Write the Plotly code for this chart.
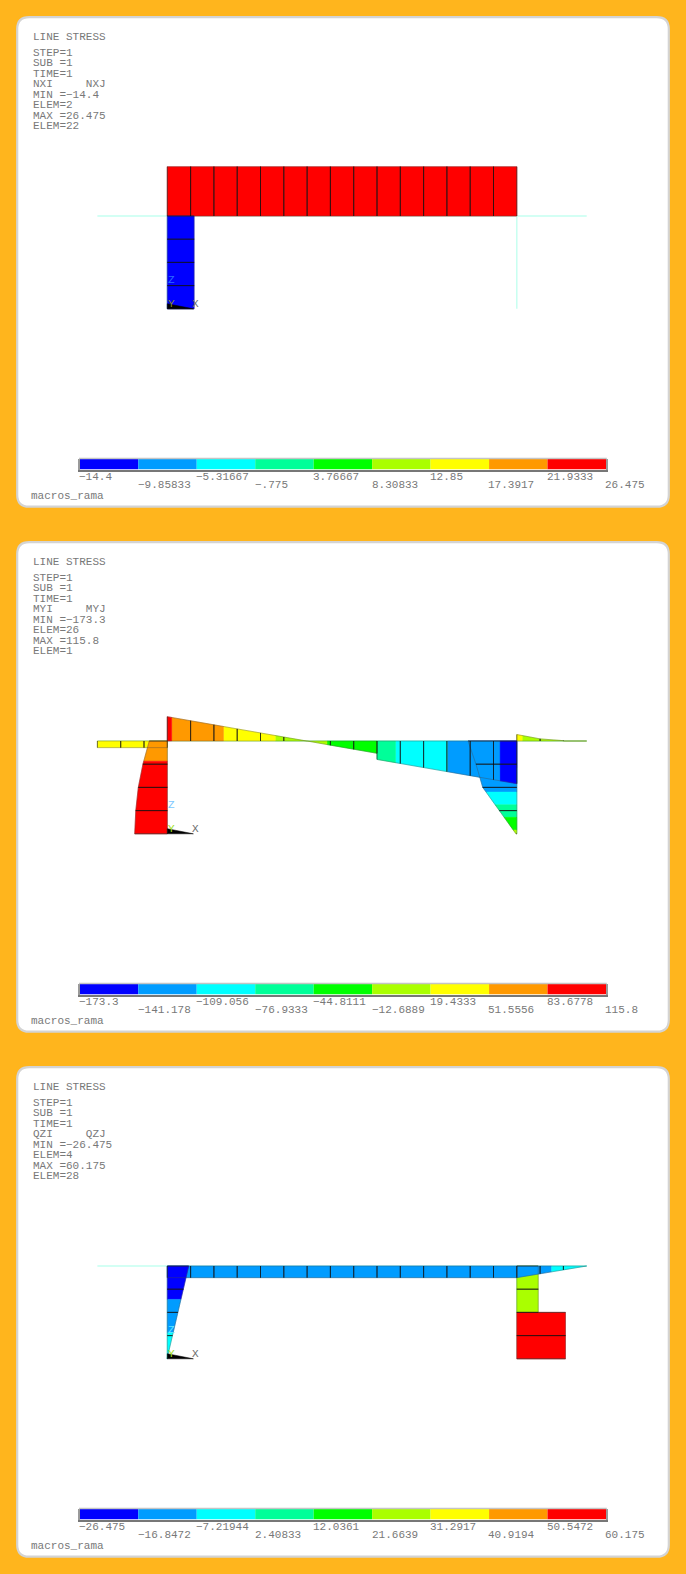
import plotly.graph_objects as go

# ---------- data ----------
beam_x = [0, 1, 2, 3, 4, 5, 6, 7, 8, 9, 10, 11, 12, 13, 14, 15]
left_over_x = [-3, -2, -1, 0]
right_over_x = [15, 16, 17, 18]
col_z = [0, -1, -2, -3, -4]

# NX
nx_levels = [-14.4, -9.85833, -5.31667, -0.775, 3.76667, 8.30833, 12.85, 17.3917, 21.9333, 26.475]
nx_labels = ["−14.4", "−9.85833", "−5.31667", "−.775", "3.76667", "8.30833", "12.85", "17.3917", "21.9333", "26.475"]
nx_beam_i = [26.475, 26.475, 26.475, 26.475, 26.475, 26.475, 26.475, 26.475, 26.475, 26.475, 26.475, 26.475, 26.475, 26.475, 26.475]
nx_beam_j = [26.475, 26.475, 26.475, 26.475, 26.475, 26.475, 26.475, 26.475, 26.475, 26.475, 26.475, 26.475, 26.475, 26.475, 26.475]
nx_lcol_i = [-14.4, -14.4, -14.4, -14.4]
nx_lcol_j = [-14.4, -14.4, -14.4, -14.4]
nx_rcol_i = [0, 0, 0, 0]
nx_rcol_j = [0, 0, 0, 0]
nx_lover_i = [0, 0, 0]
nx_lover_j = [0, 0, 0]
nx_rover_i = [0, 0, 0]
nx_rover_j = [0, 0, 0]

# MY
my_levels = [-173.3, -141.178, -109.056, -76.9333, -44.8111, -12.6889, 19.4333, 51.5556, 83.6778, 115.8]
my_labels = ["−173.3", "−141.178", "−109.056", "−76.9333", "−44.8111", "−12.6889", "19.4333", "51.5556", "83.6778", "115.8"]
my_beam_i = [86.4, 71.9, 57.5, 43.0, 28.6, 14.1, -0.3, -14.8, -29.2, -65.5, -79.9, -94.3, -108.7, -123.1, -137.4]
my_beam_j = [71.9, 57.5, 43.0, 28.6, 14.1, -0.3, -14.8, -29.2, -43.7, -79.9, -94.3, -108.7, -123.1, -137.4, -151.5]
my_lcol_i = [64.0, 86.6, 103.0, 112.0]
my_lcol_j = [86.6, 103.0, 112.0, 115.8]
my_rcol_i = [-173.3, -145.0, -121.0, -62.0]
my_rcol_j = [-145.0, -121.0, -62.0, -3.0]
my_lover_i = [23.5, 23.5, 23.5]
my_lover_j = [23.5, 23.5, 23.5]
my_rover_i = [23.0, 7.5, 1.2]
my_rover_j = [7.5, 1.2, 0.0]

# QZ
qz_levels = [-26.475, -16.8472, -7.21944, 2.40833, 12.0361, 21.6639, 31.2917, 40.9194, 50.5472, 60.175]
qz_labels = ["−26.475", "−16.8472", "−7.21944", "2.40833", "12.0361", "21.6639", "31.2917", "40.9194", "50.5472", "60.175"]
qz_beam_i = [-14.4, -14.4, -14.4, -14.4, -14.4, -14.4, -14.4, -14.4, -14.4, -14.4, -14.4, -14.4, -14.4, -14.4, -14.4]
qz_beam_j = [-14.4, -14.4, -14.4, -14.4, -14.4, -14.4, -14.4, -14.4, -14.4, -14.4, -14.4, -14.4, -14.4, -14.4, -14.4]
qz_lcol_i = [-26.475, -19.8, -13.1, -6.4]
qz_lcol_j = [-19.8, -13.1, -6.4, 0.3]
qz_rcol_i = [26.475, 26.475, 60.175, 60.175]
qz_rcol_j = [26.475, 26.475, 60.175, 60.175]
qz_lover_i = [0, 0, 0]
qz_lover_j = [0, 0, 0]
qz_rover_i = [-14.4, -9.6, -4.8]
qz_rover_j = [-9.6, -4.8, 0.0]

band_colors = ["#0000ff", "#009cff", "#00ffff", "#00ff99", "#00ff00", "#aaff00", "#ffff00", "#ff9900", "#ff0000"]

nx_header = ["LINE STRESS", "STEP=1", "SUB =1", "TIME=1", "NXI     NXJ", "MIN =−14.4", "ELEM=2", "MAX =26.475", "ELEM=22"]
my_header = ["LINE STRESS", "STEP=1", "SUB =1", "TIME=1", "MYI     MYJ", "MIN =−173.3", "ELEM=26", "MAX =115.8", "ELEM=1"]
qz_header = ["LINE STRESS", "STEP=1", "SUB =1", "TIME=1", "QZI     QZJ", "MIN =−26.475", "ELEM=4", "MAX =60.175", "ELEM=28"]
footer = "macros_rama"
triad_x = [0, 1.12, 0]
triad_z = [-4, -4, -3.78]

# ---------- layout constants (pixels) ----------
W, H = 686, 1574
DY = 525
UX, UZ = 23.3, 23.2
X0, Z0 = 167.3, 216.0
PX_PER_VALUE = [1.862, 0.2815, 0.809]
TEXT = "#787878"
FONT = "Liberation Mono"


def fx(px):
    return px / W


def fy(py):
    return 1 - py / H


panels = [
    dict(levels=nx_levels, labels=nx_labels, header=nx_header,
         beam=(nx_beam_i, nx_beam_j), lcol=(nx_lcol_i, nx_lcol_j), rcol=(nx_rcol_i, nx_rcol_j),
         lover=(nx_lover_i, nx_lover_j), rover=(nx_rover_i, nx_rover_j), zcolor="#2a6cff", ycolor="#8a8a20"),
    dict(levels=my_levels, labels=my_labels, header=my_header,
         beam=(my_beam_i, my_beam_j), lcol=(my_lcol_i, my_lcol_j), rcol=(my_rcol_i, my_rcol_j),
         lover=(my_lover_i, my_lover_j), rover=(my_rover_i, my_rover_j), zcolor="#7cc8ff", ycolor="#a0e020"),
    dict(levels=qz_levels, labels=qz_labels, header=qz_header,
         beam=(qz_beam_i, qz_beam_j), lcol=(qz_lcol_i, qz_lcol_j), rcol=(qz_rcol_i, qz_rcol_j),
         lover=(qz_lover_i, qz_lover_j), rover=(qz_rover_i, qz_rover_j), zcolor="#60e8ff", ycolor="#a0e020"),
]

fig = go.Figure()
shapes, annotations, layout_axes = [], [], {}


def text(x, y, s, xref="paper", yref="paper", color=TEXT, size=11, anchor="left"):
    annotations.append(dict(x=x, y=y, xref=xref, yref=yref, text=s, showarrow=False, xanchor=anchor,
                            yanchor="middle", borderpad=0, align="left",
                            font=dict(family=FONT, size=size, color=color)))


def band_of(v, levels):
    for k in range(9):
        if v < levels[k + 1]:
            return k
    return 8


def member_polys(nodes, vi, vj, base, direction, k, levels, horizontal):
    """Contour-banded quads for one member: returns polys per band, outlines, dividers."""
    bands = {b: ([], []) for b in range(9)}
    ox, oz, dx, dz = [], [], [], []

    def pt(s, v):
        off = direction * v * k
        return (s, base + off) if horizontal else (base + off, s)

    def bp(s):
        return (s, base) if horizontal else (base, s)

    for e in range(len(vi)):
        a, b, u, w = nodes[e], nodes[e + 1], vi[e], vj[e]
        ts = [0.0, 1.0]
        if u != w:
            for L in levels:
                t = (L - u) / (w - u)
                if 0 < t < 1:
                    ts.append(t)
        ts.sort()
        for t0, t1 in zip(ts[:-1], ts[1:]):
            mid = u + (w - u) * (t0 + t1) / 2
            if abs(u) + abs(w) == 0:
                continue
            s0, s1 = a + (b - a) * t0, a + (b - a) * t1
            v0, v1 = u + (w - u) * t0, u + (w - u) * t1
            q = [bp(s0), bp(s1), pt(s1, v1), pt(s0, v0), bp(s0)]
            xs, zs = bands[band_of(mid, levels)]
            xs += [p[0] for p in q] + [None]
            zs += [p[1] for p in q] + [None]
        if abs(u) + abs(w) > 0:
            q = [bp(a), bp(b), pt(b, w), pt(a, u), bp(a)]
            ox += [p[0] for p in q] + [None]
            oz += [p[1] for p in q] + [None]
            for s, v in ((a, u), (b, w)):
                if abs(v) > 1e-9:
                    d0, d1 = bp(s), pt(s, v)
                    dx += [d0[0], d1[0], None]
                    dz += [d0[1], d1[1], None]
    return bands, ox, oz, dx, dz


for p, P in enumerate(panels):
    n = p + 1
    off = DY * p
    xa, ya = f"xaxis{n}", f"yaxis{n}"
    xr, yr = f"x{n}", f"y{n}"
    # model axes: 1 unit = one element
    layout_axes[xa] = dict(domain=[fx(X0 - 6 * UX), fx(X0 + 21 * UX)], range=[-6, 21], visible=False, anchor=yr)
    layout_axes[ya] = dict(domain=[fy(Z0 + off + 5 * UZ), fy(Z0 + off - 3 * UZ)], range=[-5, 3], visible=False, anchor=xr)

    # panel card
    L_, R_, T_, B_, r = 17.2, 668.8, 17.2 + off, 506.7 + off, 12
    path = (f"M {fx(L_ + r)} {fy(T_)} L {fx(R_ - r)} {fy(T_)} Q {fx(R_)} {fy(T_)} {fx(R_)} {fy(T_ + r)} "
            f"L {fx(R_)} {fy(B_ - r)} Q {fx(R_)} {fy(B_)} {fx(R_ - r)} {fy(B_)} "
            f"L {fx(L_ + r)} {fy(B_)} Q {fx(L_)} {fy(B_)} {fx(L_)} {fy(B_ - r)} "
            f"L {fx(L_)} {fy(T_ + r)} Q {fx(L_)} {fy(T_)} {fx(L_ + r)} {fy(T_)} Z")
    shapes.append(dict(type="path", path=path, xref="paper", yref="paper", fillcolor="white",
                       line=dict(color="#d4d4d4", width=2.2), layer="below"))

    # undeformed frame
    fig.add_trace(go.Scatter(
        x=[left_over_x[0], right_over_x[-1], None, beam_x[0], beam_x[0], None, beam_x[-1], beam_x[-1]],
        y=[col_z[0], col_z[0], None, col_z[0], col_z[-1], None, col_z[0], col_z[-1]],
        mode="lines", line=dict(color="#c4fff0", width=1.4), xaxis=xr, yaxis=yr, hoverinfo="skip", showlegend=False))

    kx = PX_PER_VALUE[p] / UX
    kz = PX_PER_VALUE[p] / UZ
    members = [
        (left_over_x, P["lover"], 0, -1, kz, True),
        (col_z, P["rcol"], beam_x[-1], 1, kx, False),
        (beam_x, P["beam"], 0, 1, kz, True),
        (right_over_x, P["rover"], 0, 1, kz, True),
        (col_z, P["lcol"], beam_x[0], -1, kx, False),
    ]
    ox, oz, dx, dz = [], [], [], []
    for nodes, (vi, vj), base, direction, k, horizontal in members:
        bands, a, b, c, d = member_polys(nodes, vi, vj, base, direction, k, P["levels"], horizontal)
        ox += a; oz += b; dx += c; dz += d
        for bi, (xs, zs) in bands.items():
            if xs:
                fig.add_trace(go.Scatter(x=xs, y=zs, mode="lines", fill="toself", fillcolor=band_colors[bi],
                                         line=dict(color=band_colors[bi], width=0.5), xaxis=xr, yaxis=yr,
                                         hoverinfo="skip", showlegend=False))
    fig.add_trace(go.Scatter(x=ox, y=oz, mode="lines", line=dict(color="rgba(70,70,70,0.45)", width=0.8),
                             xaxis=xr, yaxis=yr, hoverinfo="skip", showlegend=False))
    fig.add_trace(go.Scatter(x=dx, y=dz, mode="lines", line=dict(color="rgba(0,0,0,0.5)", width=0.8),
                             xaxis=xr, yaxis=yr, hoverinfo="skip", showlegend=False))
    # triad
    fig.add_trace(go.Scatter(x=triad_x + [triad_x[0]], y=triad_z + [triad_z[0]], mode="lines", fill="toself",
                             fillcolor="black", line=dict(color="black", width=0.5), xaxis=xr, yaxis=yr,
                             hoverinfo="skip", showlegend=False))
    text(0.19, -2.75, "Z", xr, yr, P["zcolor"], anchor="center")
    text(0.17, -3.79, "Y", xr, yr, P["ycolor"], anchor="center")
    text(1.23, -3.79, "X", xr, yr, "#6a6a6a", anchor="center")

    # header lines
    for s, py in zip(P["header"], [37.3, 53.3, 63.4, 73.8, 84.3, 95.0, 105.3, 116.0, 126.3]):
        text(fx(31.6), fy(py + off), s)
    text(fx(29.8), fy(496 + off), footer)

    # contour key
    m = n + 3
    kxa, kya = f"xaxis{m}", f"yaxis{m}"
    kxr, kyr = f"x{m}", f"y{m}"
    lv = P["levels"]
    layout_axes[kxa] = dict(domain=[fx(79.8), fx(606)], range=[lv[0], lv[-1]], showline=True, mirror=False,
                            linecolor="#777777", linewidth=1.5, showgrid=False, zeroline=False,
                            showticklabels=False, ticks="", anchor=kyr)
    layout_axes[kya] = dict(domain=[fy(469.5 + off), fy(459 + off)], range=[-0.5, 0.5], showline=True, mirror=True,
                            linecolor="#9a9a9a", linewidth=1.5, showgrid=False, zeroline=False,
                            showticklabels=False, ticks="", anchor=kxr)
    shapes.append(dict(type="line", xref="paper", yref="paper", x0=fx(79), x1=fx(606.8), y0=fy(458.4 + off),
                       y1=fy(458.4 + off), line=dict(color="#c4c4c4", width=1.5), layer="above"))
    fig.add_trace(go.Bar(y=[0] * 9, x=[lv[i + 1] - lv[i] for i in range(9)], base=lv[:-1], width=1,
                         orientation="h", marker=dict(color=band_colors, line=dict(width=0)),
                         xaxis=kxr, yaxis=kyr, hoverinfo="skip", showlegend=False))
    for i, (v, s) in enumerate(zip(lv, P["labels"])):
        annotations.append(dict(x=v, xshift=-1.6, y=fy((477 if i % 2 == 0 else 485.4) + off), xref=kxr, yref="paper",
                                text=s, showarrow=False, xanchor="left", yanchor="middle", borderpad=0, align="left",
                                font=dict(family=FONT, size=11, color=TEXT)))

fig.update_layout(width=W, height=H, margin=dict(l=0, r=0, t=0, b=0), paper_bgcolor="#FFB51D",
                  plot_bgcolor="rgba(0,0,0,0)", showlegend=False, barmode="overlay",
                  shapes=shapes, annotations=annotations, **layout_axes)
fig.write_html("out.html", config=dict(displayModeBar=False),
               post_script="document.body.style.margin='0';document.body.style.background='#FFB51D';document.documentElement.style.overflow='hidden';")
